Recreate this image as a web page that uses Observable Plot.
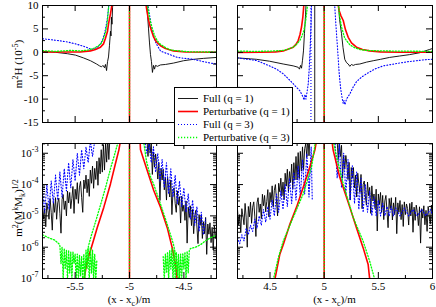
<!DOCTYPE html>
<html><head><meta charset="utf-8">
<script src="https://cdn.jsdelivr.net/npm/d3@7"></script>
<script src="https://cdn.jsdelivr.net/npm/@observablehq/plot@0.6"></script>
<style>
body{margin:0;background:#fff}
#chart{position:relative;width:436px;height:307px;overflow:hidden}
#chart svg{position:absolute}
</style></head><body><div id="chart"></div><script>
const FONT = '"Liberation Serif","Times New Roman",serif';
const seriesNames = ["Full (q = 1)", "Perturbative (q = 1)", "Full (q = 3)", "Perturbative (q = 3)"];
const seriesColors = ["#000000", "#ff0000", "#0000ff", "#00ff00"];
const seriesDash = [null, null, "1,2", "1.2,1.8"];
const seriesWidth = [0.9, 1.6, 1.1, 1.3];

const xMajorL = [-5.5, -5, -4.5], xMinorL = [-5.75, -5.25, -4.75, -4.25];
const xMajorR = [4.5, 5, 5.5, 6], xMinorR = [4.25, 4.75, 5.25, 5.75];
const yMajorTop = [-15, -10, -5, 0, 5, 10], yMinorTop = [-12.5, -7.5, -2.5, 2.5, 7.5];
const yMajorBot = [1e-7, 1e-6, 1e-5, 1e-4, 1e-3];
const yDomainBot = [1e-7, 2.05e-3];
const yMinorBot = [];
for (const e of [-7, -6, -5, -4, -3]) for (let m = 2; m <= 9; m++) { const v = m * 10 ** e; if (v < yDomainBot[1]) yMinorBot.push(v); }

// ---- top-left: m^2 H (1e-5) ----
const TL_full1 = [
  [[-5.800,0.2],[-5.680,0.0],[-5.570,-0.3],[-5.497,-0.6],[-5.423,-1.2],[-5.359,-1.8],[-5.303,-2.5],[-5.276,-2.9],[-5.257,-3.1],[-5.244,-2.8],[-5.230,-3.3],[-5.221,-2.6],[-5.211,-3.9],[-5.202,-2.0],[-5.193,-1.0],[-5.184,1.5],[-5.175,4.5],[-5.170,3.5],[-5.166,7.5],[-5.161,6],[-5.156,9.5],[-5.147,12]],
  [[-4.844,12],[-4.834,8],[-4.825,5],[-4.816,2],[-4.807,-0.5],[-4.798,-2.0],[-4.789,-4.3],[-4.779,-2.8],[-4.770,-3.6],[-4.761,-2.8],[-4.743,-3.0],[-4.715,-2.7],[-4.669,-2.6],[-4.595,-2.3],[-4.503,-1.8],[-4.411,-1.5],[-4.320,-1.3],[-4.200,-1.1]]
];
const TL_pert1 = [
  [[-5.8,0.05],[-5.634,0.05],[-5.451,0.1],[-5.359,0.3],[-5.313,0.6],[-5.267,1.1],[-5.239,1.8],[-5.221,3.0],[-5.202,4.5],[-5.193,6.0],[-5.184,7.2],[-5.175,8.2],[-5.166,9.5],[-5.156,11]],
  [[-4.853,11],[-4.844,9.5],[-4.830,7.5],[-4.816,6.0],[-4.798,4.6],[-4.779,3.3],[-4.752,2.2],[-4.715,1.4],[-4.669,0.8],[-4.595,0.3],[-4.485,0.05],[-4.2,0.0]]
];
const TL_full3 = [
  [[-5.8,2.9],[-5.726,2.7],[-5.653,2.5],[-5.570,2.2],[-5.497,1.8],[-5.423,1.3],[-5.377,0.9],[-5.349,0.6],[-5.322,0.8],[-5.294,1.1],[-5.267,1.8],[-5.248,2.6],[-5.230,4.0],[-5.216,5.5],[-5.202,7.5],[-5.189,10.5]],
  [[-4.834,11],[-4.816,8],[-4.798,5.5],[-4.779,3.3],[-4.761,2.2],[-4.743,1.4],[-4.715,0.3],[-4.687,0.0],[-4.651,-0.3],[-4.605,-0.7],[-4.559,-1.1],[-4.494,-1.3],[-4.439,-1.4],[-4.375,-1.7],[-4.320,-2.0],[-4.255,-2.3],[-4.2,-2.5]]
];
const TL_pert3 = [
  [[-5.8,0.35],[-5.68,0.2],[-5.543,0.4],[-5.451,0.3],[-5.377,0.5],[-5.322,0.9],[-5.285,1.4],[-5.257,2.0],[-5.239,3.0],[-5.221,4.2],[-5.207,6.0],[-5.198,8.0],[-5.189,10.5]],
  [[-4.839,11],[-4.825,8.5],[-4.807,6.5],[-4.789,5.0],[-4.770,3.6],[-4.743,2.4],[-4.715,1.7],[-4.669,1.0],[-4.623,0.5],[-4.549,0.3],[-4.439,0.1],[-4.2,0.05]]
];
const TL_sing = [[1, -5], [3, -5]];

// ---- top-right ----
const TR_full1 = [
  [[4.2,-1.2],[4.32,-1.4],[4.375,-1.5],[4.495,-1.9],[4.622,-2.5],[4.714,-2.9],[4.76,-3.2],[4.772,-3.6],[4.782,-2.8],[4.791,-3.4],[4.80,-1.7],[4.809,0.3],[4.818,4],[4.828,8],[4.834,11]],
  [[5.130,11],[5.142,7],[5.160,4],[5.174,1],[5.190,-1.5],[5.206,-2.2],[5.222,-2.5],[5.237,-3.0],[5.252,-2.6],[5.268,-2.8],[5.289,-2.6],[5.329,-2.5],[5.391,-2.1],[5.453,-1.8],[5.520,-1.5],[5.603,-1.1],[5.695,-0.8],[5.788,-0.5],[5.880,-0.1],[5.972,0.6],[6.0,0.8]]
];
const TR_pert1 = [
  [[4.2,-0.05],[4.412,0.0],[4.551,0.1],[4.622,0.3],[4.671,0.7],[4.714,1.1],[4.740,1.7],[4.760,2.5],[4.777,3.8],[4.791,5.4],[4.803,7.5],[4.812,10],[4.818,11]],
  [[5.123,11],[5.137,9],[5.155,7.8],[5.176,6.8],[5.197,4.8],[5.222,3.2],[5.252,2.0],[5.298,1.1],[5.354,0.6],[5.419,0.3],[5.520,0.1],[5.705,0.0],[6.0,0.0]]
];
const TR_full3 = [
  [[4.2,-1.2],[4.375,-1.75],[4.495,-2.9],[4.560,-3.6],[4.622,-4.6],[4.671,-5.7],[4.714,-6.7],[4.745,-7.5],[4.775,-8.2],[4.791,-8.9],[4.806,-9.6],[4.814,-10.2],[4.823,-9.0],[4.832,-10.0],[4.842,-8.5],[4.853,-6.7],[4.862,-3.5],[4.871,1],[4.879,6],[4.883,11]],
  [[5.095,11],[5.105,7],[5.114,4],[5.126,0],[5.139,-4.6],[5.151,-7.5],[5.160,-8.9],[5.169,-10.2],[5.176,-10.9],[5.183,-10.3],[5.192,-11.2],[5.206,-10.0],[5.237,-8.9],[5.266,-7.5],[5.298,-6.3],[5.345,-5.3],[5.391,-4.6],[5.465,-3.6],[5.545,-2.9],[5.622,-2.6],[5.695,-2.3],[5.778,-2.0],[5.852,-1.8],[5.926,-1.6],[5.991,-1.5]]
];
const TR_pert3 = [
  [[4.2,0.25],[4.366,0.2],[4.505,0.25],[4.622,0.4],[4.671,0.7],[4.714,1.1],[4.745,1.7],[4.775,2.5],[4.795,3.5],[4.812,4.6],[4.828,6.5],[4.837,8.2],[4.848,10.5]],
  [[5.128,11],[5.142,7.8],[5.160,5.4],[5.190,3.0],[5.237,1.6],[5.280,1.0],[5.329,0.6],[5.391,0.4],[5.520,0.3],[5.705,0.25],[6.0,0.2]]
];
const TR_sing = [[0, 4.913], [2, 4.878], [1, 5], [3, 5]];

// ---- bottom-left: m^2 (M^k M_k)^(1/2) ----
const BL_full1 = [
  [[-5.80,2.5e-5],[-5.79,8e-6],[-5.78,1.7e-5],[-5.77,4.5e-6],[-5.76,2.6e-5],[-5.75,1.5e-5],[-5.74,7.8e-6],[-5.73,3.6e-5],[-5.72,1.3e-5],[-5.71,3.5e-6],
   [-5.70,2.8e-5],[-5.69,1.3e-5],[-5.68,3.8e-5],[-5.67,7.8e-6],[-5.66,2.6e-5],[-5.65,3.7e-5],[-5.64,1.2e-5],[-5.63,2.8e-6],[-5.62,3.3e-5],[-5.61,4.8e-5],
   [-5.60,1.6e-5],[-5.59,3.0e-5],[-5.58,1.0e-5],[-5.57,6.2e-5],[-5.56,2.6e-5],[-5.55,5.6e-5],[-5.54,1.7e-5],[-5.53,3.6e-5],[-5.52,8.7e-5],[-5.51,1.2e-5],
   [-5.50,7.1e-5],[-5.49,3.4e-5],[-5.48,1.15e-4],[-5.47,2.5e-5],[-5.46,8.3e-5],[-5.45,1.26e-4],[-5.44,3.8e-5],[-5.43,1.3e-5],[-5.42,1.4e-4],[-5.41,7.4e-5],
   [-5.40,2.0e-4],[-5.39,5.5e-5],[-5.38,1.5e-4],[-5.37,4.2e-5],[-5.36,2.9e-4],[-5.35,1.1e-4],[-5.34,3.9e-4],[-5.33,7.6e-5],[-5.32,3.3e-4],[-5.31,1.45e-4],
   [-5.30,5.6e-4],[-5.29,9.5e-5],[-5.28,7.2e-4],[-5.27,2.2e-4],[-5.26,1.3e-3],[-5.25,2.5e-4],[-5.24,1.9e-3],[-5.23,2.9e-4],[-5.22,2.2e-3],[-5.21,5.2e-4],
   [-5.20,3.2e-3],[-5.19,6.3e-4],[-5.18,3.2e-3]],
  [[-4.84,3.2e-3],[-4.83,7.9e-4],[-4.82,3.2e-3],[-4.81,1.0e-3],[-4.80,2.2e-3],[-4.79,2.1e-4],[-4.78,1.1e-3],[-4.77,3.6e-4],[-4.76,9.5e-4],[-4.75,4.5e-4],
   [-4.74,1.5e-4],[-4.73,5.1e-4],[-4.72,3.1e-5],[-4.71,3.3e-4],[-4.70,1.4e-4],[-4.69,3.1e-4],[-4.68,6.8e-5],[-4.67,1.7e-4],[-4.66,3.2e-5],[-4.65,1.8e-4],
   [-4.64,7.9e-5],[-4.63,4.0e-5],[-4.62,1.4e-4],[-4.61,1.1e-5],[-4.60,6.3e-5],[-4.59,7.9e-5],[-4.58,2.5e-5],[-4.57,1.3e-5],[-4.56,6.3e-5],[-4.55,2.2e-5],
   [-4.54,4.1e-5],[-4.53,5.9e-6],[-4.52,4.3e-5],[-4.51,1.4e-5],[-4.50,2.2e-5],[-4.49,7.2e-6],[-4.48,3.0e-5],[-4.47,1.35e-6],[-4.46,1.9e-5],[-4.45,8.9e-6],
   [-4.44,2.1e-5],[-4.43,4.9e-6],[-4.42,1.6e-5],[-4.41,2.7e-6],[-4.40,1.0e-5],[-4.39,1.5e-5],[-4.38,4.4e-6],[-4.37,1.3e-6],[-4.36,1.1e-5],[-4.35,5.0e-6],
   [-4.34,1.05e-5],[-4.33,1.9e-6],[-4.32,6.5e-6],[-4.31,2.7e-6],[-4.30,8.9e-6],[-4.29,5.9e-7],[-4.28,5.5e-6],[-4.27,2.6e-6],[-4.26,6.0e-6],[-4.25,1.4e-6],
   [-4.24,4.3e-6],[-4.23,8.1e-7],[-4.22,4.9e-6],[-4.21,1.9e-6],[-4.20,4.0e-6]]
];
const BL_pert1 = [
  [[-5.42,9e-8],[-5.389,3.5e-7],[-5.343,1.2e-6],[-5.297,4.2e-6],[-5.236,1.9e-5],[-5.175,1.05e-4],[-5.129,4.7e-4],[-5.098,1.26e-3],[-5.083,2.5e-3]],
  [[-4.903,2.5e-3],[-4.899,1.3e-3],[-4.837,2.8e-4],[-4.777,6.5e-5],[-4.715,1.9e-5],[-4.653,4.2e-6],[-4.607,9.5e-7],[-4.577,2.8e-7],[-4.561,9e-8]]
];
const BL_full3 = [
  [[-5.80,7.9e-5],[-5.78,1.3e-5],[-5.76,1.0e-4],[-5.74,1.6e-5],[-5.72,1.3e-4],[-5.70,2.5e-5],[-5.68,2.0e-4],[-5.66,3.2e-5],[-5.64,2.5e-4],[-5.62,4.0e-5],[-5.60,3.2e-4],[-5.58,6.3e-5],[-5.56,5.0e-4],[-5.54,7.9e-5],[-5.52,6.3e-4],[-5.50,1.3e-4],[-5.48,1.0e-3],[-5.46,2.0e-4],[-5.44,1.3e-3],[-5.42,3.2e-4],[-5.40,1.6e-3],[-5.38,5.0e-4],[-5.36,2.5e-3],[-5.34,7.9e-4],[-5.32,2.5e-3]],
  [[-4.86,2.5e-3],[-4.84,1.0e-3],[-4.82,2.0e-3],[-4.80,5.0e-4],[-4.78,1.6e-3],[-4.76,2.5e-4],[-4.74,1.0e-3],[-4.72,1.3e-4],[-4.70,6.3e-4],[-4.68,7.9e-5],[-4.66,5.0e-4],[-4.64,5.0e-5],[-4.62,3.2e-4],[-4.60,4.0e-5],[-4.58,2.0e-4],[-4.56,2.5e-5],[-4.54,1.3e-4],[-4.52,2.0e-5],[-4.50,7.9e-5],[-4.48,1.3e-5],[-4.46,5.0e-5],[-4.44,7.9e-6],[-4.42,3.2e-5],[-4.40,5.0e-6],[-4.38,2.0e-5],[-4.36,3.2e-6],[-4.34,1.3e-5],[-4.32,2.5e-6],[-4.30,7.9e-6]]
];
const BL_pert3 = [
  [[-5.8,2.5e-6],[-5.745,2.0e-6],[-5.69,1.7e-6],[-5.65,1.3e-6],[-5.64,1.1e-6],[-5.63,3e-7],[-5.62,1.0e-6],[-5.61,9e-8],[-5.60,9e-7],[-5.59,2e-7],[-5.58,8e-7],[-5.57,9e-8],[-5.56,8e-7],[-5.55,1.5e-7],[-5.54,7e-7],[-5.53,9e-8],[-5.52,7e-7],[-5.51,3e-7],[-5.50,6e-7],[-5.49,9e-8],[-5.48,6e-7],[-5.47,9e-8],[-5.46,5.5e-7],[-5.45,1.2e-7],[-5.44,5e-7],[-5.43,9e-8],[-5.42,6e-7],[-5.41,9e-8],[-5.40,8e-7],[-5.39,2e-7],[-5.38,9e-7],[-5.37,9e-8],[-5.36,1e-6],[-5.35,1.5e-7],[-5.34,8e-7],[-5.33,9e-8],[-5.32,6e-7],[-5.31,9e-8],[-5.30,4e-7]],
  [[-5.42,9e-8],[-5.395,4.5e-7],[-5.377,1.1e-6],[-5.349,2.5e-6],[-5.313,6.3e-6],[-5.267,2.2e-5],[-5.221,7.9e-5],[-5.175,3.2e-4],[-5.138,8.9e-4],[-5.11,2.0e-3],[-5.101,2.8e-3]],
  [[-4.871,2.5e-3],[-4.844,5.6e-4],[-4.807,1.8e-4],[-4.777,1.0e-4],[-4.715,2.4e-5],[-4.653,5.4e-6],[-4.614,2.0e-6],[-4.595,1.2e-6],[-4.577,6e-7],[-4.56,2.5e-7],[-4.55,9e-8]],
  [[-4.69,5e-7],[-4.68,9e-8],[-4.67,6e-7],[-4.66,1.5e-7],[-4.65,7e-7],[-4.64,9e-8],[-4.63,8e-7],[-4.62,2e-7],[-4.61,9e-7],[-4.60,9e-8],[-4.59,8e-7],[-4.58,9e-8],[-4.57,7e-7],[-4.56,1.2e-7],[-4.55,6e-7],[-4.54,9e-8],[-4.53,6e-7],[-4.52,9e-8],[-4.51,6.5e-7],[-4.50,2e-7],[-4.49,7e-7],[-4.48,9e-8],[-4.47,7.5e-7],[-4.46,1.5e-7],[-4.45,8e-7],[-4.44,9e-7],[-4.393,1.0e-6],[-4.347,1.2e-6],[-4.301,1.6e-6],[-4.255,2.0e-6],[-4.2,2.4e-6]]
];
const BL_sing = [[1, -5], [3, -5]];

// ---- bottom-right ----
const BR_full1 = [
  [[4.20,1.6e-5],[4.21,5.2e-6],[4.22,1.1e-5],[4.23,2.9e-6],[4.24,1.7e-5],[4.25,1.0e-5],[4.26,5.2e-6],[4.27,2.5e-5],[4.28,9.1e-6],[4.29,1.0e-6],
   [4.30,2.0e-5],[4.31,9.3e-6],[4.32,2.75e-5],[4.33,5.8e-6],[4.34,1.9e-5],[4.35,2.8e-5],[4.36,9.3e-6],[4.37,2.2e-6],[4.38,2.6e-5],[4.39,3.8e-5],
   [4.40,1.3e-5],[4.41,2.4e-5],[4.42,8.1e-6],[4.43,4.9e-5],[4.44,2.1e-5],[4.45,4.5e-5],[4.46,1.35e-5],[4.47,2.9e-5],[4.48,6.9e-5],[4.49,9.3e-6],
   [4.50,5.6e-5],[4.51,2.7e-5],[4.52,9.1e-5],[4.53,1.95e-5],[4.54,6.6e-5],[4.55,1.0e-4],[4.56,3.0e-5],[4.57,1.0e-5],[4.58,1.1e-4],[4.59,5.9e-5],
   [4.60,1.6e-4],[4.61,4.4e-5],[4.62,1.2e-4],[4.63,3.3e-5],[4.64,2.3e-4],[4.65,8.9e-5],[4.66,3.1e-4],[4.67,6.0e-5],[4.68,2.6e-4],[4.69,1.15e-4],
   [4.70,4.5e-4],[4.71,7.1e-5],[4.72,5.0e-4],[4.73,1.4e-4],[4.74,7.9e-4],[4.75,1.4e-4],[4.76,1.05e-3],[4.77,1.55e-4],[4.78,1.15e-3],[4.79,2.7e-4],
   [4.80,1.6e-3],[4.81,3.0e-4],[4.82,1.4e-3],[4.83,2.0e-3],[4.84,7.6e-4],[4.85,3.5e-3],[4.86,8.3e-4],[4.87,3.9e-3],[4.88,3.5e-3]],
  [[5.12,2.5e-3],[5.13,6.3e-4],[5.14,2.5e-3],[5.15,7.9e-4],[5.16,1.8e-3],[5.17,1.6e-4],[5.18,8.7e-4],[5.19,3.1e-4],[5.20,8.5e-4],[5.21,4.2e-4],
   [5.22,1.45e-4],[5.23,5.1e-4],[5.24,3.2e-5],[5.25,3.5e-4],[5.26,1.6e-4],[5.27,3.5e-4],[5.28,7.9e-5],[5.29,2.0e-4],[5.30,4.0e-5],[5.31,2.3e-4],
   [5.32,1.07e-4],[5.33,5.6e-5],[5.34,2.1e-4],[5.35,1.7e-5],[5.36,1.0e-4],[5.37,1.3e-4],[5.38,4.3e-5],[5.39,2.2e-5],[5.40,1.2e-4],[5.41,4.4e-5],
   [5.42,8.1e-5],[5.43,1.2e-5],[5.44,9.1e-5],[5.45,3.0e-5],[5.46,5.0e-5],[5.47,1.7e-5],[5.48,7.1e-5],[5.49,3.3e-6],[5.50,5.0e-5],[5.51,2.3e-5],
   [5.52,5.6e-5],[5.53,1.3e-5],[5.54,4.5e-5],[5.55,7.6e-6],[5.56,3.0e-5],[5.57,4.5e-5],[5.58,1.4e-5],[5.59,4.2e-6],[5.60,3.6e-5],[5.61,1.7e-5],
   [5.62,3.8e-5],[5.63,7.4e-6],[5.64,2.6e-5],[5.65,1.1e-5],[5.66,3.9e-5],[5.67,2.7e-6],[5.68,2.6e-5],[5.69,1.3e-5],[5.70,3.1e-5],[5.71,7.6e-6],
   [5.72,2.3e-5],[5.73,4.6e-6],[5.74,2.8e-5],[5.75,1.1e-5],[5.76,2.4e-5],[5.77,1.7e-5],[5.78,5.1e-6],[5.79,2.5e-5],[5.80,1.0e-5],[5.81,2.75e-5],
   [5.82,3.0e-6],[5.83,1.9e-5],[5.84,7.2e-6],[5.85,2.2e-5],[5.86,1.3e-5],[5.87,4.9e-6],[5.88,1.95e-5],[5.89,1.35e-6],[5.90,1.7e-5],[5.91,8.5e-6],
   [5.92,2.1e-5],[5.93,5.2e-6],[5.94,1.5e-5],[5.95,3.2e-6],[5.96,2.0e-5],[5.97,1.0e-5],[5.98,5.6e-6],[5.99,2.2e-5],[6.00,7.9e-6]]
];
const BR_pert1 = [
  [[4.544,9e-8],[4.59,5.8e-7],[4.622,1.2e-6],[4.683,5.4e-6],[4.745,1.9e-5],[4.806,8.1e-5],[4.867,3.6e-4],[4.914,1.26e-3],[4.929,2.5e-3]],
  [[5.072,2.5e-3],[5.083,1.26e-3],[5.144,1.7e-4],[5.176,8.1e-5],[5.237,1.9e-5],[5.298,4.2e-6],[5.36,9.5e-7],[5.406,2.8e-7],[5.421,9e-8]]
];
const BR_full3 = [
  [[4.20,2.0e-6],[4.22,1.3e-6],[4.24,2.5e-6],[4.26,1.6e-6],[4.28,4.0e-6],[4.30,2.5e-6],[4.32,5.0e-6],[4.34,3.2e-6],[4.36,7.9e-6],[4.38,4.0e-6],[4.40,1.0e-5],[4.42,5.0e-6],[4.44,1.6e-5],[4.46,6.3e-6],[4.48,2.0e-5],[4.50,7.9e-6],[4.52,3.2e-5],[4.54,1.0e-5],[4.56,5.0e-5],[4.58,1.3e-5],[4.60,6.3e-5],[4.62,1.6e-5],[4.64,1.0e-4],[4.66,2.0e-5],[4.68,1.6e-4],[4.70,2.5e-5],[4.72,2.5e-4],[4.74,3.2e-5],[4.76,4.0e-4],[4.78,4.0e-5],[4.80,6.3e-4],[4.82,5.0e-5],[4.84,1.0e-3],[4.86,4.0e-5],[4.88,1.6e-3],[4.89,3.2e-5]],
  [[5.10,2.5e-3],[5.12,1.6e-4],[5.14,2.0e-3],[5.16,7.9e-5],[5.18,1.0e-3],[5.20,5.0e-5],[5.22,6.3e-4],[5.24,3.2e-5],[5.26,4.0e-4],[5.28,2.5e-5],[5.30,2.5e-4],[5.32,1.6e-5],[5.34,1.6e-4],[5.36,1.3e-5],[5.38,1.0e-4],[5.40,1.3e-5],[5.42,6.3e-5],[5.44,1.0e-5],[5.46,4.0e-5],[5.48,1.0e-5],[5.50,3.2e-5],[5.52,1.0e-5],[5.54,2.5e-5],[5.56,1.0e-5],[5.58,2.0e-5],[5.60,1.0e-5],[5.62,2.0e-5],[5.64,1.0e-5],[5.66,1.8e-5],[5.70,1.0e-5],[5.74,1.8e-5],[5.78,1.0e-5],[5.82,1.6e-5],[5.86,1.0e-5],[5.90,1.6e-5],[5.94,1.0e-5],[5.98,1.6e-5],[6.00,1.1e-5]]
];
const BR_pert3 = [
  [[4.53,9e-8],[4.576,4.5e-7],[4.622,1.55e-6],[4.714,8.9e-6],[4.806,5.0e-5],[4.883,3.6e-4],[4.908,1.26e-3],[4.92,2.5e-3]],
  [[5.086,2.5e-3],[5.1,1.26e-3],[5.176,1.05e-4],[5.268,8.9e-6],[5.36,1.55e-6],[5.421,3.5e-7],[5.468,9e-8]]
];
const BR_sing = [[1, 5], [3, 5]];

const chart = document.getElementById("chart");
const SVGNS = "http://www.w3.org/2000/svg";

function makePanel(cfg) {
  const {left, top, width, height, mL, mR, mT, mB, xDomain, yType, yDomain,
         xMajor, xMinor, yMajor, yMinor, showX, showY, series, sing, yFmt} = cfg;
  const fw = width - mL - mR, fh = height - mT - mB;
  const order = [0, 2, 1, 3];
  const marks = [];
  for (const i of order) for (const branch of series[i])
    marks.push(Plot.line(branch, {x: d => d[0], y: d => d[1], stroke: seriesColors[i],
      strokeWidth: seriesWidth[i], strokeDasharray: seriesDash[i], clip: true}));
  for (const i of order) {
    const xs = sing.filter(s => s[0] === i).map(s => s[1]);
    if (xs.length) marks.push(Plot.ruleX(xs, {stroke: seriesColors[i], strokeWidth: seriesWidth[i], strokeDasharray: seriesDash[i]}));
  }
  const tx = (v, len) => [Plot.ruleX(v, {insetTop: fh - len}), Plot.ruleX(v, {insetBottom: fh - len})];
  const ty = (v, len) => [Plot.ruleY(v, {insetRight: fw - len}), Plot.ruleY(v, {insetLeft: fw - len})];
  marks.push(...tx(xMajor, 6), ...tx(xMinor, 3), ...ty(yMajor, 6), ...ty(yMinor, 3));
  marks.push(Plot.frame({stroke: "black"}));
  if (showX) marks.push(Plot.axisX(xMajor, {anchor: "bottom", tickSize: 0, tickPadding: 4, label: null, tickFormat: d => String(d)}));
  if (showY) marks.push(Plot.axisY(yMajor, {anchor: "left", tickSize: 0, tickPadding: 4, label: null, tickFormat: yFmt}));
  const xOpt = {domain: xDomain}; if (!showX) xOpt.axis = null;
  const yOpt = {type: yType, domain: yDomain}; if (!showY) yOpt.axis = null;
  const svg = Plot.plot({width, height, marginLeft: mL, marginRight: mR, marginTop: mT, marginBottom: mB,
    x: xOpt, y: yOpt,
    style: `font-family: ${FONT}; font-size: 11px; background: transparent; max-width: none; overflow: visible; color: black;`,
    marks});
  svg.querySelectorAll('[aria-label="y-axis tick label"] text').forEach(t => {
    const parts = t.textContent.split("^");
    if (parts.length === 2) {
      t.textContent = parts[0];
      const ts = document.createElementNS(SVGNS, "tspan");
      ts.setAttribute("dy", "-5"); ts.setAttribute("font-size", "8");
      ts.textContent = parts[1]; t.appendChild(ts);
    }
  });
  svg.style.position = "absolute";
  svg.style.left = left + "px"; svg.style.top = top + "px";
  chart.appendChild(svg);
}

const topFmt = d => String(d);
const logFmt = d => "10^" + Math.round(Math.log10(d));

makePanel({left: 0, top: 0, width: 220, height: 130, mL: 42, mR: 4, mT: 5, mB: 8,
  xDomain: [-5.8, -4.2], yType: "linear", yDomain: [-15, 10],
  xMajor: xMajorL, xMinor: xMinorL, yMajor: yMajorTop, yMinor: yMinorTop,
  showX: false, showY: true, yFmt: topFmt, series: [TL_full1, TL_pert1, TL_full3, TL_pert3], sing: TL_sing});
makePanel({left: 230, top: 0, width: 206, height: 130, mL: 7, mR: 4, mT: 5, mB: 8,
  xDomain: [4.2, 6], yType: "linear", yDomain: [-15, 10],
  xMajor: xMajorR, xMinor: xMinorR, yMajor: yMajorTop, yMinor: yMinorTop,
  showX: false, showY: false, series: [TR_full1, TR_pert1, TR_full3, TR_pert3], sing: TR_sing});
makePanel({left: 0, top: 135, width: 220, height: 172, mL: 42, mR: 4, mT: 8, mB: 29,
  xDomain: [-5.8, -4.2], yType: "log", yDomain: yDomainBot,
  xMajor: xMajorL, xMinor: xMinorL, yMajor: yMajorBot, yMinor: yMinorBot,
  showX: true, showY: true, yFmt: logFmt, series: [BL_full1, BL_pert1, BL_full3, BL_pert3], sing: BL_sing});
makePanel({left: 230, top: 135, width: 206, height: 172, mL: 7, mR: 4, mT: 8, mB: 29,
  xDomain: [4.2, 6], yType: "log", yDomain: yDomainBot,
  xMajor: xMajorR, xMinor: xMinorR, yMajor: yMajorBot, yMinor: yMinorBot,
  showX: true, showY: false, series: [BR_full1, BR_pert1, BR_full3, BR_pert3], sing: BR_sing});

// overlay: axis titles and legend
const ov = d3.select(chart).append("svg").attr("width", 436).attr("height", 307)
  .style("left", "0px").style("top", "0px")
  .attr("font-family", FONT).attr("font-size", 11).attr("fill", "black");
function rich(sel, parts) {
  let shift = 0;
  for (const [t, k] of parts) {
    const target = k === "sup" ? -4 : k === "sub" ? 3 : 0;
    const ts = sel.append("tspan").attr("dy", target - shift).text(t);
    if (k) ts.attr("font-size", 8);
    shift = target;
  }
}
rich(ov.append("text").attr("transform", "translate(22,64) rotate(-90)").attr("text-anchor", "middle"),
  [["m"], ["2", "sup"], ["H (10"], ["-5", "sup"], [")"]]);
rich(ov.append("text").attr("transform", "translate(22,208) rotate(-90)").attr("text-anchor", "middle"),
  [["m"], ["2", "sup"], ["(M"], ["k", "sup"], ["M"], ["k", "sub"], [")"], ["1/2", "sup"]]);
for (const cx of [129, 334.5])
  rich(ov.append("text").attr("x", cx).attr("y", 302.5).attr("text-anchor", "middle"),
    [["(x - x"], ["c", "sub"], [")/m"]]);

const lg = ov.append("g");
lg.append("rect").attr("x", 174.5).attr("y", 87.5).attr("width", 118).attr("height", 58)
  .attr("fill", "white").attr("stroke", "black");
const rowY = [98, 111, 124, 137];
seriesNames.forEach((name, i) => {
  lg.append("line").attr("x1", 178).attr("x2", 198).attr("y1", rowY[i] + 0.5).attr("y2", rowY[i] + 0.5)
    .attr("stroke", seriesColors[i]).attr("stroke-width", seriesWidth[i])
    .attr("stroke-dasharray", seriesDash[i]);
  lg.append("text").attr("x", 203).attr("y", rowY[i] + 4).text(name);
});
</script></body></html>
